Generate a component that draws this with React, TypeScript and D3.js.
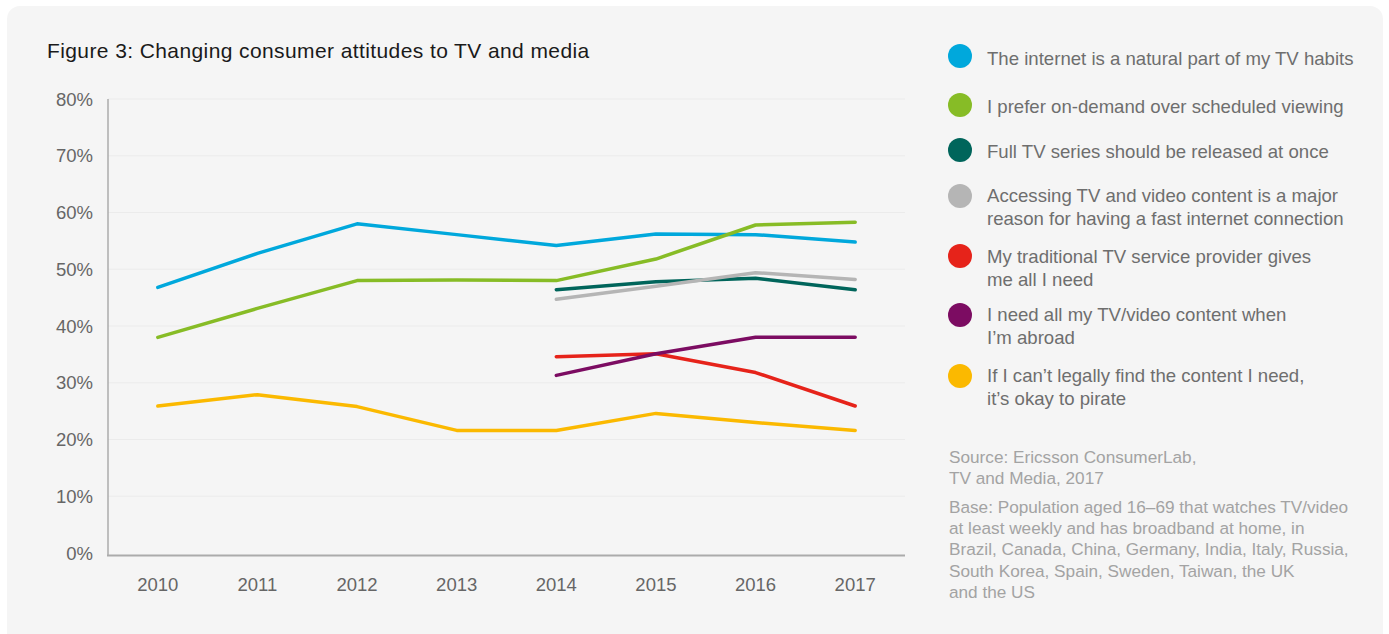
import React from "react";
import * as d3 from "d3";

const years = ["2010", "2011", "2012", "2013", "2014", "2015", "2016", "2017"];
const yTicks = [0, 10, 20, 30, 40, 50, 60, 70, 80];

const internetNatural = [46.8, 52.8, 58.0, 56.1, 54.2, 56.2, 56.1, 54.8];
const onDemand = [38.0, 43.1, 48.0, 48.1, 48.0, 51.8, 57.8, 58.3];
const fullSeries = [null, null, null, null, 46.4, 47.8, 48.4, 46.4];
const fastInternet = [null, null, null, null, 44.7, 47.0, 49.4, 48.2];
const traditionalTV = [null, null, null, null, 34.6, 35.1, 31.8, 25.9];
const abroad = [null, null, null, null, 31.3, 35.1, 38.0, 38.0];
const pirate = [25.9, 27.9, 25.8, 21.6, 21.6, 24.6, 23.0, 21.6];

const seriesNames = [
  ["The internet is a natural part of my TV habits"],
  ["I prefer on-demand over scheduled viewing"],
  ["Full TV series should be released at once"],
  ["Accessing TV and video content is a major", "reason for having a fast internet connection"],
  ["My traditional TV service provider gives", "me all I need"],
  ["I need all my TV/video content when", "I\u2019m abroad"],
  ["If I can\u2019t legally find the content I need,", "it\u2019s okay to pirate"],
];
const seriesValues = [internetNatural, onDemand, fullSeries, fastInternet, traditionalTV, abroad, pirate];
const seriesColors = ["#00a8dc", "#87bc26", "#00655b", "#b5b5b5", "#e6231a", "#7c0c62", "#fbb900"];

const sourceLines = ["Source: Ericsson ConsumerLab,", "TV and Media, 2017"];
const baseLines = [
  "Base: Population aged 16\u201369 that watches TV/video",
  "at least weekly and has broadband at home, in",
  "Brazil, Canada, China, Germany, India, Italy, Russia,",
  "South Korea, Spain, Sweden, Taiwan, the UK",
  "and the US",
];

const W = 1389;
const H = 634;
const FONT = "'Liberation Sans', Arial, Helvetica, sans-serif";

export default function App() {
  const x = d3.scaleBand<string>().domain(years).range([108, 905]);
  const y = d3.scaleLinear().domain([0, 80]).range([553, 99]);
  const line = d3
    .line<number | null>()
    .defined((d) => d !== null)
    .x((_, i) => (x(years[i]) as number) + x.bandwidth() / 2)
    .y((d) => y(d as number));

  const legendY = [56, 105, 150, 196, 256, 315, 376];
  const legendTextY = [64.5, 112.5, 157.5, 201.5, 262.5, 320.5, 381.5];

  return (
    <svg
      width={W}
      height={H}
      style={{ position: "absolute", left: 0, top: 0, display: "block" }}
      fontFamily={FONT}
    >
      <rect x={0} y={0} width={W} height={H} fill="#ffffff" />
      <rect x={7} y={6} width={1376} height={640} rx={13} fill="#f5f5f5" />

      <text x={47} y={58} fontSize={21} letterSpacing={0.4} fill="#1a1a1a">
        Figure 3: Changing consumer attitudes to TV and media
      </text>

      {yTicks.map((t) => (
        <g key={t}>
          {t > 0 && (
            <line x1={108} x2={905} y1={y(t)} y2={y(t)} stroke="#ebebeb" strokeWidth={1} />
          )}
          <text x={93} y={y(t) + 6.5} fontSize={18.5} fill="#666" textAnchor="end">
            {t}%
          </text>
        </g>
      ))}

      <line x1={108} x2={108} y1={99} y2={556} stroke="#ababab" strokeWidth={1.5} />
      <line x1={107} x2={905} y1={555.5} y2={555.5} stroke="#ababab" strokeWidth={2} />

      {years.map((yr) => (
        <text
          key={yr}
          x={(x(yr) as number) + x.bandwidth() / 2}
          y={591}
          fontSize={18.5}
          fill="#666"
          textAnchor="middle"
        >
          {yr}
        </text>
      ))}

      {seriesValues.map((vals, i) => (
        <path
          key={i}
          d={line(vals) || ""}
          fill="none"
          stroke={seriesColors[i]}
          strokeWidth={3.5}
          strokeLinejoin="round"
          strokeLinecap="round"
        />
      ))}

      {seriesNames.map((lines, i) => (
        <g key={i}>
          <circle cx={960} cy={legendY[i]} r={12} fill={seriesColors[i]} />
          {lines.map((ln, j) => (
            <text key={j} x={987} y={legendTextY[i] + j * 23.5} fontSize={18.6} fill="#6e6e6e">
              {ln}
            </text>
          ))}
        </g>
      ))}

      {sourceLines.map((ln, j) => (
        <text key={"s" + j} x={949} y={463 + j * 21.3} fontSize={17.2} fill="#a3a3a3">
          {ln}
        </text>
      ))}
      {baseLines.map((ln, j) => (
        <text key={"b" + j} x={949} y={512.7 + j * 21.3} fontSize={17.2} fill="#a3a3a3">
          {ln}
        </text>
      ))}
    </svg>
  );
}
